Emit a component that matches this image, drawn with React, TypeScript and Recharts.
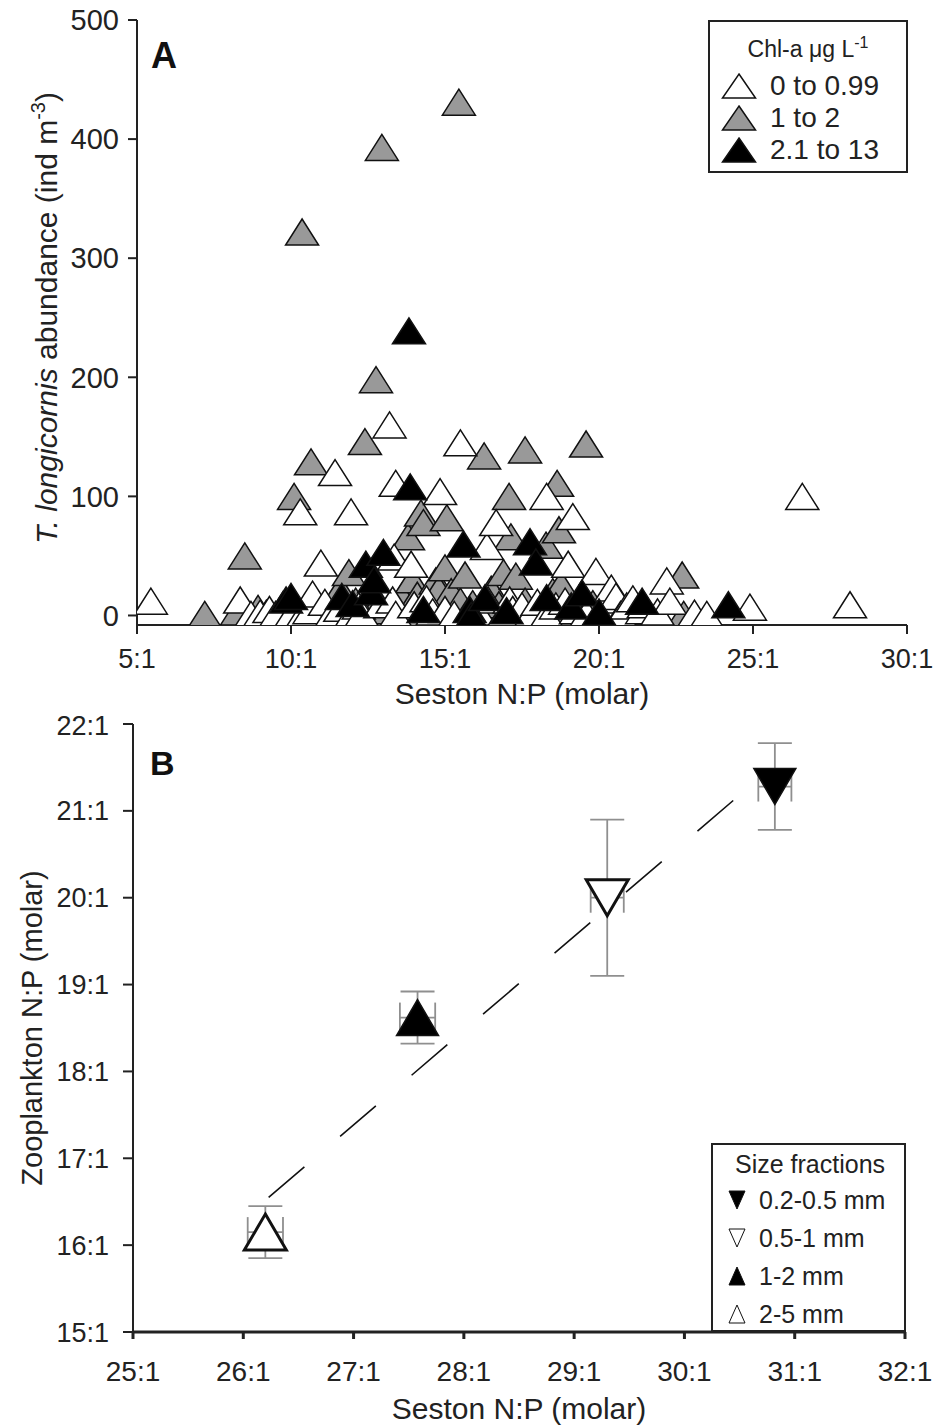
import React from 'react';
import { ScatterChart, Scatter, XAxis, YAxis, ErrorBar, Legend, ReferenceLine } from 'recharts';

const FONT = '"Liberation Sans", Arial, Helvetica, sans-serif';

// ---- Panel A: seston N:P vs T. longicornis abundance, by Chl-a class ----
const chlClasses = ['0 to 0.99', '1 to 2', '2.1 to 13'];

// [seston N:P, abundance ind m-3]
const chlLow = [
  [5.45, 12], [8.35, 13], [8.7, 1], [9.0, 2], [9.3, 5], [9.5, 1], [10.0, 1], [10.3, 87], [10.4, 2],
  [10.6, 4], [10.7, 18], [10.97, 44], [11.1, 11], [11.33, 2], [11.43, 120], [11.6, 6], [11.95, 87],
  [11.98, 2], [12.2, 8], [12.3, 2], [12.9, 9], [13.2, 160], [13.3, 13], [13.35, 49], [13.4, 111],
  [13.4, 1], [13.9, 43], [14.0, 9], [14.4, 14], [14.6, 3], [14.84, 104], [15.0, 5], [15.3, 1],
  [15.5, 145], [16.1, 3], [16.36, 58], [16.4, 13], [16.66, 78], [16.9, 1], [17.1, 13], [17.2, 5],
  [17.5, 8], [17.8, 2], [18.0, 11], [18.3, 100], [18.3, 1], [18.6, 8], [18.9, 12], [19.0, 43],
  [19.15, 83], [19.25, 4], [19.6, 2], [19.9, 37], [20.1, 6], [20.3, 13], [20.4, 23], [20.55, 16],
  [20.7, 1], [20.9, 8], [21.1, 14], [21.4, 4], [21.45, 9], [21.9, 3], [22.2, 29], [22.3, 12],
  [23.1, 2], [23.5, 1], [24.9, 7], [26.6, 100], [28.15, 9],
];
const chlMid = [
  [7.2, 1], [8.25, 3], [8.5, 50], [8.93, 6], [9.2, 2], [9.74, 9], [10.1, 100], [10.36, 322], [10.5, 7],
  [10.65, 129], [11.2, 1], [11.6, 22], [11.88, 36], [12.1, 12], [12.4, 146], [12.6, 1], [12.76, 198],
  [12.95, 393], [13.1, 4], [13.6, 16], [13.8, 66], [13.93, 30], [13.95, 2], [14.1, 17], [14.22, 86],
  [14.3, 78], [14.6, 8], [14.7, 29], [14.8, 22], [15.0, 40], [15.06, 82], [15.2, 20], [15.45, 431],
  [15.5, 12], [15.65, 34], [15.9, 10], [16.27, 134], [16.5, 22], [16.75, 9], [16.9, 36], [17.08, 100],
  [17.14, 66], [17.3, 33], [17.6, 139], [17.6, 12], [18.1, 5], [18.28, 59], [18.5, 20], [18.64, 111],
  [18.7, 72], [18.77, 26], [19.0, 1], [19.58, 144], [19.8, 10], [20.5, 16], [22.7, 34], [22.75, 1],
];
const chlHigh = [
  [9.84, 13], [10.0, 16], [11.65, 16], [12.0, 10], [12.43, 43], [12.6, 20], [12.7, 30], [13.0, 53],
  [13.83, 239], [13.87, 108], [14.3, 5], [15.6, 60], [15.8, 5], [15.85, 0], [16.3, 15], [17.0, 4],
  [17.76, 62], [17.95, 45], [18.3, 15], [19.1, 8], [19.45, 19], [20.0, 3], [21.4, 12], [24.2, 9],
];

const npTicksA = [5, 10, 15, 20, 25, 30];
const abundanceTicks = [0, 100, 200, 300, 400, 500];

// ---- Panel B: zooplankton N:P vs seston N:P, by size fraction ----
const sizeFractions = ['0.2-0.5 mm', '0.5-1 mm', '1-2 mm', '2-5 mm'];
const sestonNP = [30.82, 29.3, 27.58, 26.2];
const sestonErr = [0.15, 0.15, 0.16, 0.16];
const zooNP = [21.28, 20.0, 18.62, 16.15];
const zooErr = [0.5, 0.9, 0.3, 0.3];
const fitLine = [[26.23, 16.55], [30.48, 21.16]];

const npTicksB = [25, 26, 27, 28, 29, 30, 31, 32];
const zooTicks = [15, 16, 17, 18, 19, 20, 21, 22];

const toPts = (arr: number[][]) => arr.map(([x, y]) => ({ x, y }));
const bData = sizeFractions.map((name, i) => ({ name, x: sestonNP[i], y: zooNP[i], ex: sestonErr[i], ey: zooErr[i] }));

const triPath = (cx: number, cy: number, w: number, h: number, down: boolean) => {
  const hw = w / 2;
  const hh = h / 2;
  return down
    ? `M${cx - hw},${cy - hh}L${cx + hw},${cy - hh}L${cx},${cy + hh}Z`
    : `M${cx},${cy - hh}L${cx + hw},${cy + hh}L${cx - hw},${cy + hh}Z`;
};

const triShape = (fill: string, w: number, h: number, sw: number, down = false) => (p: any) => {
  if (p.cx == null || p.cy == null) return <g />;
  return <path d={triPath(p.cx, p.cy, w, h, down)} fill={fill} stroke="#111" strokeWidth={sw} strokeLinejoin="miter" />;
};

const chlFills = ['#ffffff', '#999999', '#000000'];

const LegendA = () => (
  <div style={{ position: 'relative', width: 200, height: 153, border: '2px solid #222', boxSizing: 'border-box', background: '#fff', fontFamily: FONT, color: '#222' }}>
    <div style={{ position: 'absolute', top: 12, left: 0, width: '100%', textAlign: 'center', fontSize: 23 }}>
      Chl-a μg L<sup style={{ fontSize: 16 }}>-1</sup>
    </div>
    {chlClasses.map((c, i) => (
      <div key={c} style={{ position: 'absolute', left: 0, top: 48 + i * 32, height: 32, display: 'flex', alignItems: 'center' }}>
        <svg width={60} height={32}>
          <path d={triPath(29, 16, 33, 24, false)} fill={chlFills[i]} stroke="#111" strokeWidth={1.5} />
        </svg>
        <span style={{ fontSize: 28 }}>{c}</span>
      </div>
    ))}
  </div>
);

const bMarks = [
  { fill: '#000', down: true },
  { fill: '#fff', down: true },
  { fill: '#000', down: false },
  { fill: '#fff', down: false },
];

const LegendB = () => (
  <div style={{ position: 'relative', width: 195, height: 189, border: '2px solid #222', boxSizing: 'border-box', background: '#fff', fontFamily: FONT, color: '#222' }}>
    <div style={{ position: 'absolute', top: 5, left: 22, fontSize: 25 }}>Size fractions</div>
    {sizeFractions.map((s, i) => (
      <div key={s} style={{ position: 'absolute', left: 0, top: 38 + i * 38, height: 34, display: 'flex', alignItems: 'center' }}>
        <svg width={46} height={34}>
          <path d={triPath(24, 17, 16, 18, bMarks[i].down)} fill={bMarks[i].fill} stroke="#111" strokeWidth={1} />
        </svg>
        <span style={{ fontSize: 25 }}>{s}</span>
      </div>
    ))}
  </div>
);

const yLabelA = () => (
  <g>
    <text transform="translate(57,318) rotate(-90)" textAnchor="middle" fontSize={30} fill="#222">
      <tspan fontStyle="italic">T. longicornis</tspan>
      <tspan> abundance (ind m</tspan>
      <tspan dy={-12} fontSize={20}>-3</tspan>
      <tspan dy={12}>)</tspan>
    </text>
    <text x={151} y={68} fontSize={36} fontWeight="bold" fill="#111">A</text>
  </g>
);

const yLabelB = () => (
  <g>
    <text transform="translate(42,318) rotate(-90)" textAnchor="middle" fontSize={29} fill="#222">
      Zooplankton N:P (molar)
    </text>
    <text x={150} y={65} fontSize={34} fontWeight="bold" fill="#111">B</text>
  </g>
);

const ratio = (v: number) => `${v}:1`;

export default function App() {
  return (
    <div style={{ position: 'absolute', left: 0, top: 0, width: 939, height: 1427, background: '#fff', fontFamily: FONT }}>
      <ScatterChart width={939} height={710} margin={{ top: 20, right: 32, bottom: 0, left: 57 }}>
        <XAxis
          type="number"
          dataKey="x"
          domain={[5, 30]}
          ticks={npTicksA}
          tickFormatter={ratio}
          allowDataOverflow
          height={85}
          tickSize={9}
          tickMargin={15}
          stroke="#222"
          strokeWidth={2}
          tick={{ fontSize: 27, fill: '#222' }}
          label={{ value: 'Seston N:P (molar)', position: 'insideBottom', offset: 6, fontSize: 30, fill: '#222' }}
        />
        <XAxis xAxisId="top" type="number" dataKey="x" domain={[5, 30]} orientation="top" height={0} tick={false} tickLine={false} stroke="#222" strokeWidth={2} />
        <YAxis
          type="number"
          dataKey="y"
          domain={[-8, 500]}
          ticks={abundanceTicks}
          allowDataOverflow
          width={80}
          tickSize={9}
          tickMargin={9}
          stroke="#222"
          strokeWidth={2}
          tick={{ fontSize: 29, fill: '#222' }}
          label={{ content: yLabelA }}
        />
        <YAxis yAxisId="right" type="number" dataKey="y" domain={[-8, 500]} orientation="right" width={0} tick={false} tickLine={false} stroke="#222" strokeWidth={2} />
        <Legend layout="vertical" align="center" verticalAlign="middle" content={LegendA} wrapperStyle={{ left: 708, top: 20, width: 200, height: 153 }} />
        <Scatter name={chlClasses[1]} data={toPts(chlMid)} shape={triShape(chlFills[1], 33, 26, 1.5)} isAnimationActive={false} />
        <Scatter name={chlClasses[0]} data={toPts(chlLow)} shape={triShape(chlFills[0], 33, 26, 1.5)} isAnimationActive={false} />
        <Scatter name={chlClasses[2]} data={toPts(chlHigh)} shape={triShape(chlFills[2], 33, 26, 1.5)} isAnimationActive={false} />
      </ScatterChart>

      <ScatterChart width={939} height={717} margin={{ top: 14, right: 34, bottom: 0, left: 43 }}>
        <XAxis
          type="number"
          dataKey="x"
          domain={[25, 32]}
          ticks={npTicksB}
          tickFormatter={ratio}
          height={95}
          tickSize={7}
          tickMargin={22}
          stroke="#222"
          strokeWidth={3}
          tick={{ fontSize: 28, fill: '#222' }}
          label={{ value: 'Seston N:P (molar)', position: 'insideBottom', offset: 8, fontSize: 30, fill: '#222' }}
        />
        <XAxis xAxisId="top" type="number" dataKey="x" domain={[25, 32]} orientation="top" height={0} tick={false} tickLine={false} stroke="#222" strokeWidth={2} />
        <YAxis
          type="number"
          dataKey="y"
          domain={[15, 22]}
          ticks={zooTicks}
          tickFormatter={ratio}
          width={90}
          tickSize={10}
          tickMargin={14}
          stroke="#222"
          strokeWidth={2}
          tick={{ fontSize: 27, fill: '#222' }}
          label={{ content: yLabelB }}
        />
        <YAxis yAxisId="right" type="number" dataKey="y" domain={[15, 22]} orientation="right" width={0} tick={false} tickLine={false} stroke="#222" strokeWidth={2} />
        <Legend layout="vertical" align="center" verticalAlign="middle" content={LegendB} wrapperStyle={{ left: 711, top: 433, width: 195, height: 189 }} />
        <ReferenceLine
          segment={fitLine.map(([x, y]) => ({ x, y }))}
          stroke="#111"
          strokeWidth={1.6}
          strokeDasharray="47 47"
          ifOverflow="visible"
        />
        {bData.map((d, i) => (
          <Scatter
            key={d.name}
            name={d.name}
            data={[d]}
            shape={triShape(bMarks[i].fill, 42, 36, bMarks[i].fill === '#fff' ? 3 : 1.5, bMarks[i].down)}
            isAnimationActive={false}
          />
        ))}
        <Scatter name="error" data={bData} legendType="none" shape={() => <g />} isAnimationActive={false}>
          <ErrorBar dataKey="ey" direction="y" width={17} stroke="#8f8f8f" strokeWidth={1.8} />
          <ErrorBar dataKey="ex" direction="x" width={15} stroke="#8f8f8f" strokeWidth={1.8} />
        </Scatter>
      </ScatterChart>
    </div>
  );
}
